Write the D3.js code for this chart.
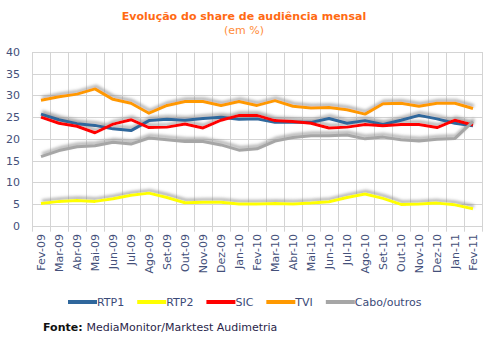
<!DOCTYPE html>
<html>
<head>
<meta charset="utf-8">
<script src="https://cdn.jsdelivr.net/npm/d3@7"></script>
<style>
  body { margin: 0; background: #fff; }
  text { font-family: "DejaVu Sans", Verdana, sans-serif; }
</style>
</head>
<body>
<svg id="mainsvg" width="494" height="351"></svg>
<script>
const months = ['Fev-09','Mar-09','Abr-09','Mai-09','Jun-09','Jul-09','Ago-09','Set-09','Out-09','Nov-09','Dez-09',
  'Jan-10','Fev-10','Mar-10','Abr-10','Mai-10','Jun-10','Jul-10','Ago-10','Set-10','Out-10','Nov-10','Dez-10','Jan-11','Fev-11'];
const rtp1 = [25.7,24.4,23.5,23.1,22.3,21.9,24.2,24.5,24.3,24.7,25.0,24.5,24.6,23.8,23.9,23.8,24.7,23.6,24.2,23.3,24.3,25.4,24.6,23.6,23.0];
const rtp2 = [5.1,5.6,5.8,5.6,6.2,7.0,7.5,6.5,5.3,5.4,5.4,5.0,5.0,5.1,5.0,5.2,5.5,6.5,7.3,6.3,4.9,5.0,5.2,4.8,3.9];
const sic  = [25.0,23.6,22.9,21.4,23.4,24.4,22.6,22.7,23.4,22.5,24.3,25.4,25.4,24.2,24.0,23.6,22.5,22.7,23.3,23.0,23.3,23.3,22.6,24.3,23.2];
const tvi  = [28.9,29.7,30.3,31.5,29.1,28.2,25.9,27.7,28.6,28.6,27.7,28.6,27.7,28.8,27.5,27.1,27.2,26.7,25.7,28.1,28.2,27.5,28.2,28.2,27.0];
const cabo = [15.9,17.3,18.2,18.4,19.2,18.8,20.2,19.8,19.4,19.4,18.6,17.4,17.7,19.5,20.3,20.7,20.7,20.9,20.0,20.4,19.8,19.5,19.9,20.1,24.0];
const yTicks = [0,5,10,15,20,25,30,35,40];

const series = [
  {name: 'RTP1', values: rtp1, color: '#2f679c'},
  {name: 'RTP2', values: rtp2, color: '#ffff00'},
  {name: 'SIC', values: sic, color: '#ff0000'},
  {name: 'TVI', values: tvi, color: '#ff9900'},
  {name: 'Cabo/outros', values: cabo, color: '#a6a6a6'}
];

const svg = d3.select('#mainsvg');
const plot = {left: 32, right: 482, top: 52, bottom: 225.7};

// shadow under the lines
const defs = svg.append('defs');
const f = defs.append('filter').attr('id', 'shadow')
  .attr('x', '-5%').attr('y', '-30%').attr('width', '110%').attr('height', '160%');
f.append('feDropShadow').attr('dx', 1).attr('dy', -2.5).attr('stdDeviation', 1.6)
  .attr('flood-color', '#8c8c8c').attr('flood-opacity', 0.75);

// title
svg.append('text').attr('x', 244).attr('y', 20).attr('text-anchor', 'middle')
  .style('font-size', '11px').style('font-weight', 'bold').style('fill', '#ff6a13')
  .text('Evolução do share de audiência mensal');
svg.append('text').attr('x', 244).attr('y', 34).attr('text-anchor', 'middle')
  .style('font-size', '11px').style('fill', '#ff8c3a')
  .text('(em %)');

// scales
const xScale = d3.scaleBand().domain(months).range([plot.left, plot.right]);
const yScale = d3.scaleLinear().domain([0, 40]).range([plot.bottom, plot.top]);

// gridlines
const grid = svg.append('g');
grid.selectAll('.hgrid').data(yTicks).join('line')
  .attr('x1', plot.left).attr('x2', plot.right)
  .attr('y1', d => Math.round(yScale(d)) + 0.5).attr('y2', d => Math.round(yScale(d)) + 0.5)
  .attr('stroke', '#d4d4d4');
const vx = months.map(m => xScale(m)).concat([plot.right]);
grid.selectAll('.vgrid').data(vx).join('line')
  .attr('x1', d => Math.round(d) + 0.5).attr('x2', d => Math.round(d) + 0.5)
  .attr('y1', plot.top).attr('y2', plot.bottom + 6)
  .attr('stroke', '#d4d4d4');

// y axis labels
svg.append('g').selectAll('text').data(yTicks).join('text')
  .attr('x', 20).attr('y', d => yScale(d) + 4)
  .attr('text-anchor', 'end')
  .style('font-size', '11px').style('fill', '#44507a')
  .text(d => d);

// x axis labels
svg.append('g').selectAll('text').data(months).join('text')
  .attr('transform', d => `translate(${xScale(d) + xScale.bandwidth() / 2 + 4}, 234) rotate(-90)`)
  .attr('text-anchor', 'end')
  .style('font-size', '11px').style('fill', '#44507a')
  .text(d => d);

// lines
const line = d3.line()
  .x((d, i) => xScale(months[i]) + xScale.bandwidth() / 2)
  .y(d => yScale(d));

const lines = svg.append('g').attr('filter', 'url(#shadow)');
lines.selectAll('path').data(series).join('path')
  .attr('d', d => line(d.values))
  .attr('fill', 'none')
  .attr('stroke', d => d.color)
  .attr('stroke-width', 3)
  .attr('stroke-linejoin', 'round');

// legend
const legend = svg.append('g');
let lx = 68;
series.forEach(s => {
  legend.append('line').attr('x1', lx).attr('x2', lx + 29).attr('y1', 302).attr('y2', 302)
    .attr('stroke', s.color).attr('stroke-width', 4);
  const t = legend.append('text').attr('x', lx + 29).attr('y', 306)
    .style('font-size', '11px').style('fill', '#3b4a78').text(s.name);
  lx += 29 + t.node().getComputedTextLength() + 13;
});

// source
const src = svg.append('text').attr('x', 43).attr('y', 331).style('font-size', '11px');
src.append('tspan').style('font-weight', 'bold').style('fill', '#111').text('Fonte: ');
src.append('tspan').style('fill', '#2a1f4a').text('MediaMonitor/Marktest Audimetria');
</script>
</body>
</html>
